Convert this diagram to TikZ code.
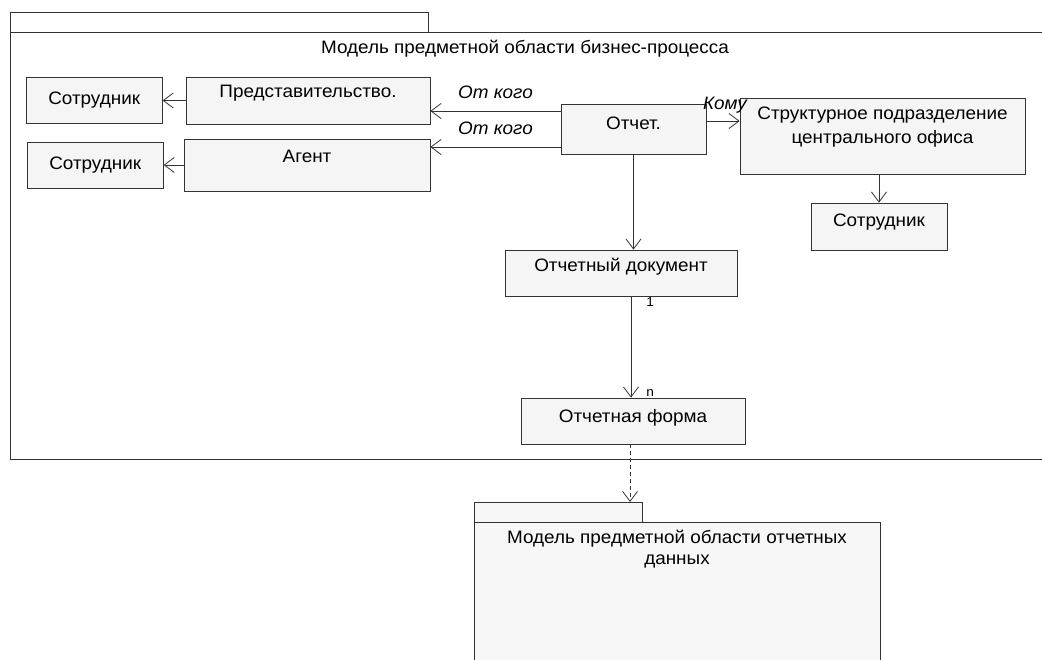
\documentclass[tikz,border=0pt]{standalone}
\usepackage{fontspec}
\setmainfont{Liberation Sans}[FakeStretch=1.05]
\usetikzlibrary{positioning,arrows.meta}

\begin{document}
\begin{tikzpicture}[x=1pt, y=-1pt,
    font=\fontsize{18}{21}\selectfont,
    entity/.style={
        draw=black!80,
        rectangle,
        fill=black!4,
        line width=0.8pt,
        inner sep=0pt,
        align=center
    },
    toplabel/.style={
        anchor=north,
        inner sep=0pt,
        align=center
    },
    package/.style={
        draw=black!80,
        rectangle,
        line width=0.8pt,
        anchor=north west,
        inner sep=0pt
    },
    assoc/.style={
        -{Straight Barb[length=10pt,width=15pt]},
        draw=black!80,
        line width=0.8pt
    },
    depend/.style={
        assoc,
        dash pattern=on 4pt off 3pt
    },
    role/.style={font=\fontsize{18}{21}\selectfont\itshape, inner sep=1pt},
    mult/.style={font=\fontsize{13}{15}\selectfont, inner sep=1pt}
]
    \useasboundingbox (0,0) rectangle (1042,659);

    % Package: business process domain model
    \node[package, minimum width=418, minimum height=20, fill=white] (tab1) at (10,12) {};
    \node[package, minimum width=1040, minimum height=427, fill=white] (pkg1) at (10,32) {};
    \node (title1) at (525,49) {Модель предметной области бизнес-процесса};

    % Package: report data domain model
    \node[package, minimum width=168, minimum height=20, fill=black!3] (tab2) at (474,502) {};
    \node[package, minimum width=406, minimum height=150, fill=black!3] (pkg2) at (474,522) {};
    \node[align=center] (title2) at (677,549) {Модель предметной области отчетных\\данных};

    % Classes
    \node[entity, minimum width=145, minimum height=50,
          label={[toplabel, yshift=-13pt]north:Отчет.}] (otchet) at (633.5,129) {};
    \node[entity, minimum width=244, minimum height=47,
          label={[toplabel, yshift=-8pt]north:Представительство.}] (pred) at (308,100.5) {};
    \node[entity, minimum width=246, minimum height=52,
          label={[toplabel, yshift=-11pt]north:Агент}] (agent) at (307,165) {};
    \node[entity, minimum width=136, minimum height=46] (sotr1) [left=23pt of pred] {Сотрудник};
    \node[entity, minimum width=136, minimum height=46] (sotr2) [left=20pt of agent] {Сотрудник};
    \node[entity, minimum width=285, minimum height=76,
          label={[toplabel, yshift=-9pt, font=\fontsize{18}{24}\selectfont]north:Структурное подразделение\\центрального офиса}] (struct) at (882.5,136) {};
    \node[entity, minimum width=136, minimum height=47,
          label={[toplabel, yshift=-11pt]north:Сотрудник}] (sotr3) at (879,226.5) {};
    \node[entity, minimum width=232, minimum height=46,
          label={[toplabel, yshift=-8pt]north:Отчетный документ}] (doc) at (621,273) {};
    \node[entity, minimum width=224, minimum height=46,
          label={[toplabel, yshift=-12pt]north:Отчетная форма}] (forma) at (633,421) {};

    % Associations
    \coordinate (fromPred) at ([yshift=18pt]otchet.west);
    \coordinate (fromAgent) at ([yshift=-18pt]otchet.west);
    \draw[assoc] (fromPred) -- (fromPred -| pred.east) node[role, midway, above=11pt] {От кого};
    \draw[assoc] (fromAgent) -- (fromAgent -| agent.east) node[role, midway, above=11pt] {От кого};
    \draw[assoc] ([yshift=8pt]otchet.east) -- ([yshift=8pt]otchet.east -| struct.west)
        node[role, midway, above=6pt, xshift=2pt] {Кому};
    \draw[assoc] (pred.west |- sotr1.east) -- (sotr1.east);
    \draw[assoc] (agent.west |- sotr2.east) -- (sotr2.east);
    \draw[assoc] (sotr3.north |- struct.south) -- (sotr3.north);
    \draw[assoc] (otchet.south) -- (otchet.south |- doc.north);
    \draw[assoc] ([xshift=-2pt]forma.north |- doc.south) -- ([xshift=-2pt]forma.north)
        node[mult, pos=0, anchor=north west, xshift=14pt] {1}
        node[mult, pos=1, anchor=south west, xshift=14pt] {n};

    % Dependency between packages
    \draw[depend] ([xshift=-3pt]forma.south) -- ([xshift=-3pt]forma.south |- tab2.north);
\end{tikzpicture}
\end{document}
